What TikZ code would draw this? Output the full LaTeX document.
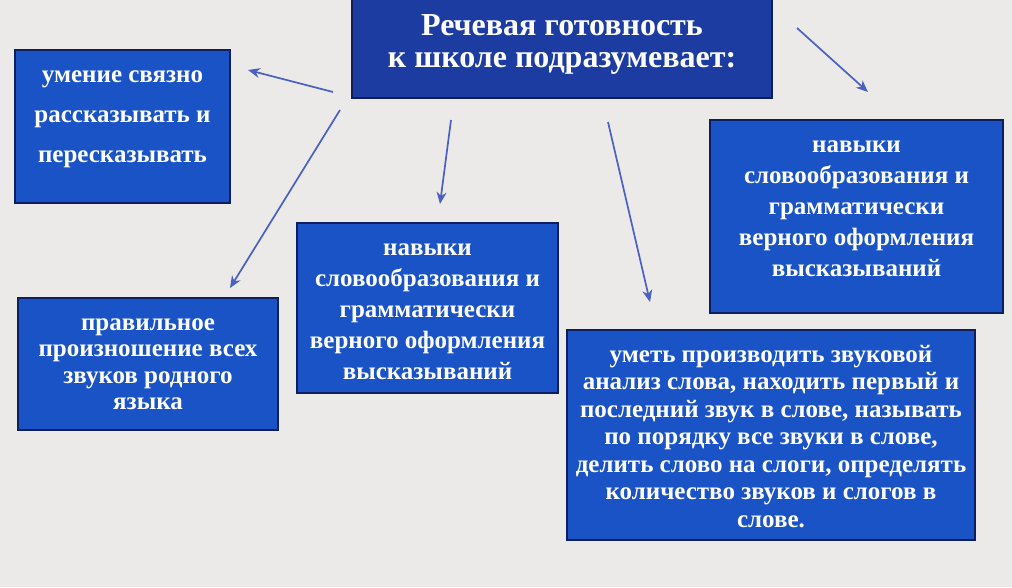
\documentclass[tikz,border=0pt]{standalone}
\usepackage{fontspec}
\setmainfont{Liberation Serif}
\usetikzlibrary{arrows.meta}
\definecolor{fon}{HTML}{EBEAE8}
\definecolor{zagolovok}{HTML}{1D3CA2}
\definecolor{sinij}{HTML}{1A53C6}
\definecolor{kraj}{HTML}{0C1E5E}
\definecolor{strelka}{HTML}{4A60C2}
\newcommand{\blok}[6][32pt]{\parbox[c][#3][t]{#2}{\centering\fontsize{#4}{#5}\selectfont\bfseries\rule{0pt}{#1}#6}}
\tikzset{
  box/.style={draw=kraj, line width=1.2pt, fill=sinij, text=white, inner sep=0pt},
  titlebox/.style={box, fill=zagolovok},
  arr/.style={draw=strelka, line width=1.7pt, -{Stealth[length=12pt,width=10pt]}}
}
\begin{document}
\begin{tikzpicture}[x=1pt,y=-1pt]
\fill [fon] (0,0) rectangle (1012,587);
\useasboundingbox (0,0) rectangle (1012,587);
\node [titlebox] (title) at (562,48) {\blok[37pt]{420pt}{100pt}{32}{32}{Речевая готовность\\к школе подразумевает:}};
\node [box] (svyaz) at (122.5,126.5) {\blok{215pt}{153pt}{25}{40}{умение связно\\рассказывать и\\пересказывать}};
\node [box] (navyki1) at (856.5,216.5) {\blok{293pt}{193pt}{25}{31}{навыки\\словообразования и\\грамматически\\верного оформления\\высказываний}};
\node [box] (navyki2) at (427.5,308) {\blok{261pt}{170pt}{25}{31}{навыки\\словообразования и\\грамматически\\верного оформления\\высказываний}};
\node [box] (zvuki) at (148,364) {\blok{260pt}{132pt}{25}{26.5}{правильное\\произношение всех\\звуков родного\\языка}};
\node [box] (analiz) at (771,435) {\blok{408pt}{210pt}{25}{27.5}{уметь производить звуковой\\анализ слова, находить первый и\\последний звук в слове, называть\\по порядку все звуки в слове,\\делить слово на слоги, определять\\количество звуков и слогов в\\слове.}};
\coordinate (s1) at (333,92);
\coordinate (e1) at (248,70);
\coordinate (s2) at (340,110);
\coordinate (e2) at (230,288);
\coordinate (s3) at (451,120);
\coordinate (e3) at (440,204);
\coordinate (s4) at (608,122);
\coordinate (e4) at (650,302);
\coordinate (s5) at (797,28);
\coordinate (e5) at (868,92);
\draw [arr] (s1) -- (e1);
\draw [arr] (s2) -- (e2);
\draw [arr] (s3) -- (e3);
\draw [arr] (s4) -- (e4);
\draw [arr] (s5) -- (e5);
\end{tikzpicture}
\end{document}
